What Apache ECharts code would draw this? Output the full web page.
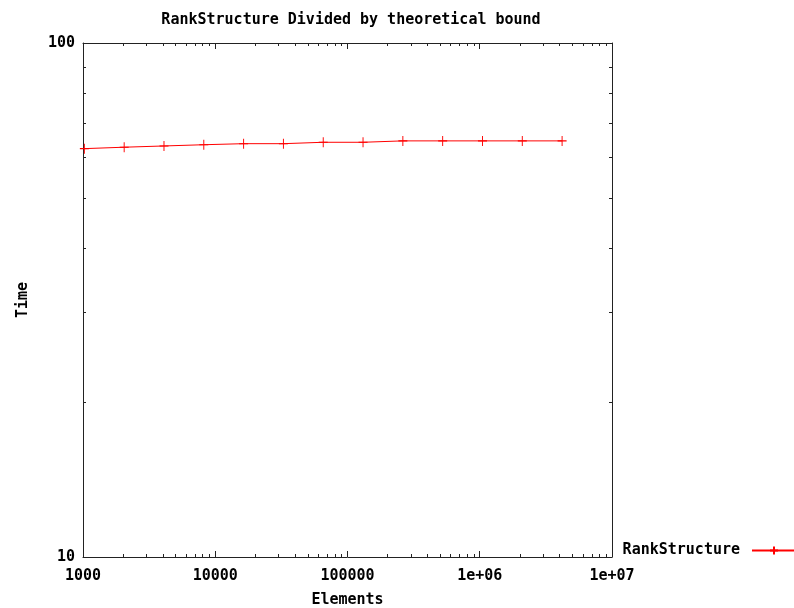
<!DOCTYPE html>
<html>
<head>
<meta charset="utf-8">
<script src="https://cdn.jsdelivr.net/npm/echarts@6/dist/echarts.min.js"></script>
<style>
  html, body { margin: 0; padding: 0; background: #fff; }
  #chart { width: 794px; height: 608px; }
</style>
</head>
<body>
<div id="chart"></div>
<script>
const FONT = '"DejaVu Sans Mono", "Liberation Mono", monospace';

// measured points (elements, time / bound)
const elements = [1024, 2048, 4096, 8192, 16384, 32768, 65536, 131072, 262144, 524288, 1048576, 2097152, 4194304];
const ratio = [62.3, 62.7, 63.05, 63.4, 63.7, 63.7, 64.1, 64.1, 64.5, 64.5, 64.5, 64.5, 64.5];

const xTickLabels = ['1000', '10000', '100000', '1e+06', '1e+07'];
const yTickLabels = ['10', '100'];

// gnuplot minor ticks
const xMinor = [2e3, 3e3, 4e3, 5e3, 6e3, 7e3, 8e3, 9e3,
                2e4, 3e4, 4e4, 5e4, 6e4, 7e4, 8e4, 9e4,
                2e5, 3e5, 4e5, 5e5, 6e5, 7e5, 8e5, 9e5,
                2e6, 3e6, 4e6, 5e6, 6e6, 7e6, 8e6, 9e6];
const yMinor = [20, 30, 40, 50, 60, 70, 80, 90];

const xMin = 1000, xMax = 1e7, yMin = 10, yMax = 100;
const axisColor = '#222';

function xLabel(v) {
  return xTickLabels[Math.round(Math.log10(v)) - 3] || '';
}
function yLabel(v) {
  return yTickLabels[Math.round(Math.log10(v)) - 1] || '';
}

function tickLine(x1, y1, x2, y2) {
  return {
    type: 'line',
    shape: { x1: x1, y1: y1, x2: x2, y2: y2 },
    style: { stroke: axisColor, lineWidth: 1 }
  };
}

function renderXMinor(params, api) {
  const b = api.coord([api.value(0), yMin]);
  const t = api.coord([api.value(0), yMax]);
  const x = Math.round(b[0]) + 0.5;
  return {
    type: 'group',
    children: [tickLine(x, b[1], x, b[1] - 3), tickLine(x, t[1], x, t[1] + 3)]
  };
}

function renderYMinor(params, api) {
  const l = api.coord([xMin, api.value(1)]);
  const r = api.coord([xMax, api.value(1)]);
  const y = Math.round(l[1]) + 0.5;
  return {
    type: 'group',
    children: [tickLine(l[0], y, l[0] + 3, y), tickLine(r[0], y, r[0] - 3, y)]
  };
}

const plusSymbol = 'path://M0,5L10,5M5,0L5,10';

let myChart = echarts.init(document.getElementById('chart'), null, { renderer: 'canvas' });

const baseAxis = {
  axisLine: { show: true, onZero: false, lineStyle: { color: axisColor, width: 1 } },
  axisTick: { show: true, inside: true, length: 6, lineStyle: { color: axisColor } },
  splitLine: { show: false },
  minorTick: { show: false },
  minorSplitLine: { show: false }
};

let option = {
  animation: false,
  backgroundColor: '#fff',
  title: {
    text: 'RankStructure Divided by theoretical bound',
    left: 346,
    textAlign: 'center',
    top: 8,
    textStyle: { fontFamily: FONT, fontSize: 15, fontWeight: 'bold', color: '#000' }
  },
  grid: { left: 83, top: 43, right: 182, bottom: 51, containLabel: false, outerBoundsMode: 'none' },
  legend: {
    data: ['RankStructure'],
    right: -3,
    top: 543,
    padding: 0,
    align: 'right',
    itemWidth: 44,
    itemHeight: 10,
    itemGap: 0,
    textStyle: { fontFamily: FONT, fontSize: 15, fontWeight: 'bold', color: '#000', padding: [0, 7, 0, 0] }
  },
  xAxis: [
    Object.assign({}, baseAxis, {
      type: 'log', logBase: 10, min: xMin, max: xMax, position: 'bottom',
      name: 'Elements', nameLocation: 'middle', nameGap: 36,
      nameTextStyle: { fontFamily: FONT, fontSize: 15, fontWeight: 'bold', color: '#000' },
      axisLabel: {
        margin: 12, formatter: xLabel,
        fontFamily: FONT, fontSize: 15, fontWeight: 'bold', color: '#000'
      }
    }),
    Object.assign({}, baseAxis, {
      type: 'log', logBase: 10, min: xMin, max: xMax, position: 'top',
      axisLabel: { show: false }
    })
  ],
  yAxis: [
    Object.assign({}, baseAxis, {
      type: 'log', logBase: 10, min: yMin, max: yMax, position: 'left',
      name: 'Time', nameLocation: 'middle', nameGap: 52, nameRotate: 90,
      nameTextStyle: { fontFamily: FONT, fontSize: 15, fontWeight: 'bold', color: '#000' },
      axisLabel: {
        margin: 8, formatter: yLabel,
        fontFamily: FONT, fontSize: 15, fontWeight: 'bold', color: '#000'
      }
    }),
    Object.assign({}, baseAxis, {
      type: 'log', logBase: 10, min: yMin, max: yMax, position: 'right',
      axisLabel: { show: false }
    })
  ],
  series: [
    {
      name: 'RankStructure',
      type: 'line',
      data: elements.map((x, i) => [x, ratio[i]]),
      symbol: plusSymbol,
      symbolSize: [9, 10],
      showSymbol: true,
      lineStyle: { color: '#ff0000', width: 1 },
      itemStyle: { color: 'none', borderColor: '#ff0000', borderWidth: 1 },
      emphasis: { disabled: true }
    },
    {
      type: 'custom',
      silent: true,
      renderItem: renderXMinor,
      data: xMinor.map((v) => [v, yMin]),
      z: 5
    },
    {
      type: 'custom',
      silent: true,
      renderItem: renderYMinor,
      data: yMinor.map((v) => [xMin, v]),
      z: 5
    }
  ]
};

myChart.setOption(option);
</script>
</body>
</html>
